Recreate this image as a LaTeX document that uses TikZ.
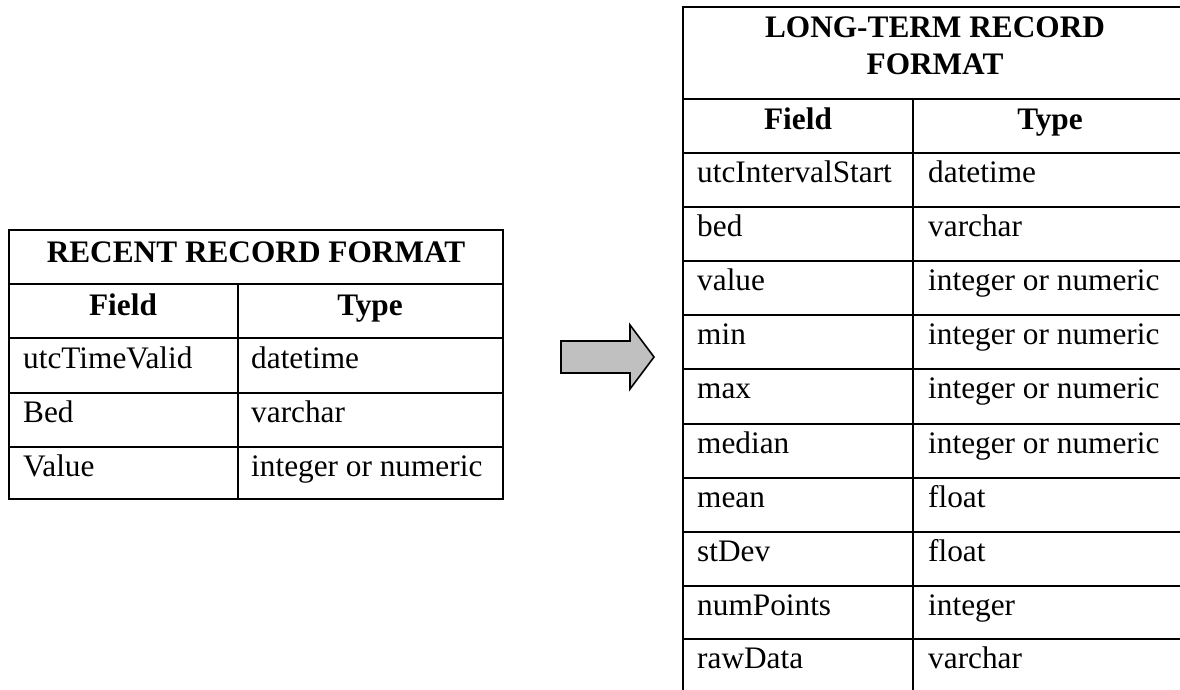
\documentclass[tikz,border=0pt]{standalone}
\usepackage{fontspec}
\setmainfont{Liberation Serif}
\definecolor{arrowgray}{RGB}{192,192,192}
\begin{document}
\begin{tikzpicture}[x=1pt,y=-1pt,
  cell/.style={anchor=base west,inner sep=0pt,font=\fontsize{31.3}{36}\selectfont},
  head/.style={anchor=base,inner sep=0pt,font=\fontsize{31.3}{36}\selectfont\bfseries},
  gridline/.style={line width=2pt},
  bigarrow/.style={fill=arrowgray,draw=black,line width=1.6pt,line join=miter}]
\useasboundingbox (0,0) rectangle (1180,689);
\clip (0,0) rectangle (1180,689);
% ---------- left table ----------
\draw[gridline] (9,230) rectangle (503,499);
\foreach \y in {284,338,393,447} \draw[gridline] (9,\y) -- (503,\y);
\draw[gridline] (238,284) -- (238,499);
\node[head] (ltitle) at (256,262) {RECENT RECORD FORMAT};
\node[head] (lfield) at (123,315) {Field};
\node[head] (ltype) at (370,315) {Type};
\node[cell] (lf1) at (23,368) {utcTimeValid};
\node[cell] (lt1) at (251,368) {datetime};
\node[cell] (lf2) at (23,422) {Bed};
\node[cell] (lt2) at (251,422) {varchar};
\node[cell] (lf3) at (23,476) {Value};
\node[cell] (lt3) at (251,476) {integer or numeric};
% ---------- arrow ----------
\draw[bigarrow] (561,341) -- (630,341) -- (630,325) -- (654,357) -- (630,389) -- (630,373) -- (561,373) -- cycle;
% ---------- right table ----------
\draw[gridline] (683,700) -- (683,7) -- (1187,7) -- (1187,700);
\foreach \y in {99,153,207,261,315,369,424,478,532,586,639} \draw[gridline] (683,\y) -- (1187,\y);
\draw[gridline] (913,99) -- (913,700);
\node[head] (rtitlea) at (935,37) {LONG-TERM RECORD};
\node[head] (rtitleb) at (935,74) {FORMAT};
\node[head] (rfield) at (798,129) {Field};
\node[head] (rtype) at (1050,129) {Type};
\foreach \n/\f/\t/\y in {1/utcIntervalStart/datetime/182,
                          2/bed/varchar/236,
                          3/value/integer or numeric/290,
                          4/min/integer or numeric/344,
                          5/max/integer or numeric/398,
                          6/median/integer or numeric/453,
                          7/mean/float/507,
                          8/stDev/float/561,
                          9/numPoints/integer/615,
                          10/rawData/varchar/668}{
  \node[cell] (rf\n) at (697,\y) {\f};
  \node[cell] (rt\n) at (928,\y) {\t};
}
\end{tikzpicture}
\end{document}
